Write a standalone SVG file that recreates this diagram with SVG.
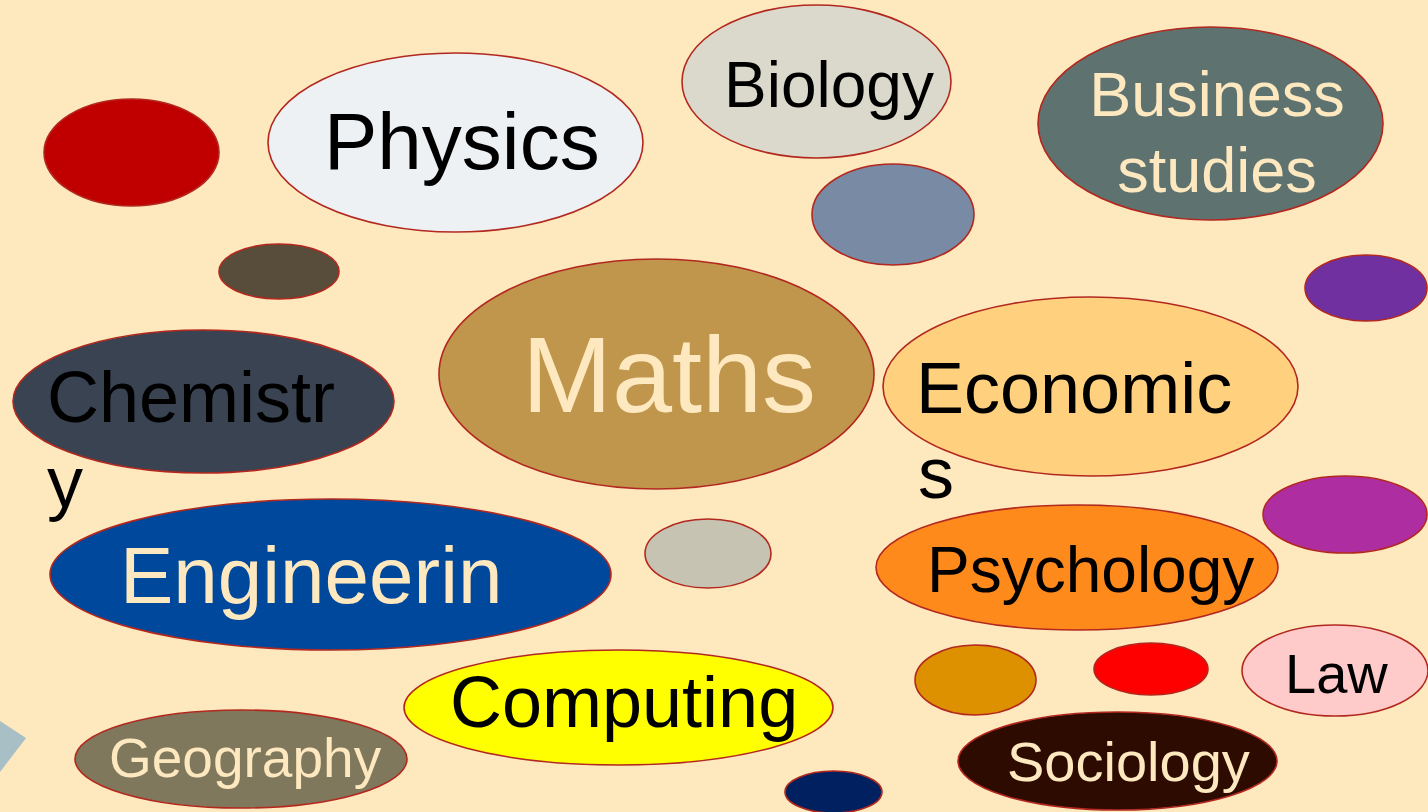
<svg xmlns="http://www.w3.org/2000/svg" width="1428" height="812" viewBox="0 0 1428 812">
<style>
.b{stroke:#b2281f;stroke-width:1.6}
text{font-family:"Liberation Sans",Arial,sans-serif}
.k{fill:#000}
.c{fill:#fde8bf}
</style>
<rect width="1428" height="812" fill="#fee8be"/>
<polygon points="0,721 26,738 0,772" fill="#a8bfc5"/>
<g id="n-red1"><ellipse class="b" cx="131.5" cy="152.5" rx="87.5" ry="53.5" fill="#c00000"/></g>
<g id="n-physics"><ellipse class="b" cx="455.5" cy="142.5" rx="187.5" ry="89.5" fill="#edf1f3"/><text class="k" x="324" y="169" font-size="80">Physics</text></g>
<g id="n-biology"><ellipse class="b" cx="816.5" cy="81.5" rx="134.5" ry="76.5" fill="#dbd9cc"/><text class="k" x="724" y="107" font-size="64">Biology</text></g>
<g id="n-business"><ellipse class="b" cx="1210.5" cy="123.5" rx="172.5" ry="96.5" fill="#5e7370"/><text class="c" x="1217" y="116" font-size="63" text-anchor="middle">Business</text><text class="c" x="1217" y="192" font-size="63" text-anchor="middle">studies</text></g>
<g id="n-steel"><ellipse class="b" cx="893" cy="214.5" rx="81" ry="50.5" fill="#798aa4"/></g>
<g id="n-olive"><ellipse class="b" cx="279" cy="271.5" rx="60" ry="27.5" fill="#574d3a"/></g>
<g id="n-purple"><ellipse class="b" cx="1366" cy="288" rx="61" ry="33" fill="#7030a0"/></g>
<g id="n-maths"><ellipse class="b" cx="656.5" cy="374" rx="217.5" ry="115" fill="#c0954c"/><text class="c" x="522" y="412" font-size="108">Maths</text></g>
<g id="n-chemistry"><ellipse class="b" cx="203.5" cy="401.5" rx="190.5" ry="71.5" fill="#394352"/><text class="k" x="47" y="422" font-size="72">Chemistr</text><text class="k" x="47" y="507" font-size="72">y</text></g>
<g id="n-economics"><ellipse class="b" cx="1090.5" cy="386.5" rx="207.5" ry="89.5" fill="#ffd17f"/><text class="k" x="916" y="413" font-size="72">Economic</text><text class="k" x="918" y="498" font-size="72">s</text></g>
<g id="n-magenta"><ellipse class="b" cx="1345" cy="514.5" rx="82" ry="38.5" fill="#ae2ea1"/></g>
<g id="n-engineering"><ellipse class="b" cx="330.5" cy="574.5" rx="280.5" ry="75.5" fill="#00489c"/><text class="c" x="120" y="603" font-size="80">Engineerin</text></g>
<g id="n-gray"><ellipse class="b" cx="708" cy="553.5" rx="63" ry="34.5" fill="#c7c3b3"/></g>
<g id="n-psychology"><ellipse class="b" cx="1077" cy="567.5" rx="201" ry="62.5" fill="#ff8a1c"/><text class="k" x="927" y="592" font-size="64">Psychology</text></g>
<g id="n-computing"><ellipse class="b" cx="618.5" cy="707.5" rx="214.5" ry="57.5" fill="#ffff00"/><text class="k" x="450" y="727" font-size="72">Computing</text></g>
<g id="n-geography"><ellipse class="b" cx="241" cy="759" rx="166" ry="49" fill="#7f785c"/><text class="c" x="109" y="777" font-size="55">Geography</text></g>
<g id="n-amber"><ellipse class="b" cx="975.5" cy="680" rx="60.5" ry="35" fill="#dd9000"/></g>
<g id="n-red2"><ellipse class="b" cx="1151" cy="669" rx="57" ry="26" fill="#ff0000"/></g>
<g id="n-law"><ellipse class="b" cx="1335" cy="670.5" rx="93" ry="45.5" fill="#ffcaca"/><text class="k" x="1285" y="693" font-size="56">Law</text></g>
<g id="n-sociology"><ellipse class="b" cx="1117.5" cy="761" rx="159.5" ry="49" fill="#2e0b00"/><text class="c" x="1007" y="781" font-size="56">Sociology</text></g>
<g id="n-navy"><ellipse class="b" cx="833.5" cy="792" rx="48.5" ry="21" fill="#00205f"/></g>
<g id="connectors"></g>
</svg>
